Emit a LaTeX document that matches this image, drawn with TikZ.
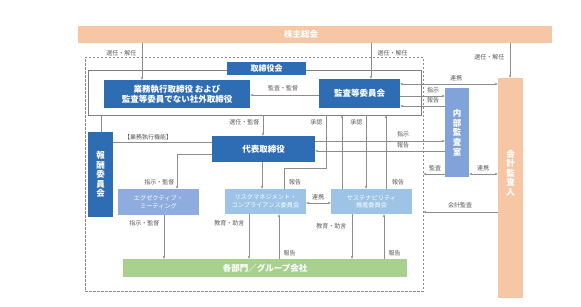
\documentclass[tikz,border=0pt]{standalone}
\usepackage{fontspec}
\setmainfont{Noto Sans CJK JP}
\usetikzlibrary{arrows.meta}
\definecolor{peach}{HTML}{F7C7A5}
\definecolor{dblue}{HTML}{2E6DB4}
\definecolor{iablue}{HTML}{82A2DA}
\definecolor{exblue}{HTML}{8EACDE}
\definecolor{lblue}{HTML}{9DC3E6}
\definecolor{lgreen}{HTML}{A9D18E}
\definecolor{linegray}{HTML}{8C8C8C}
\definecolor{labgray}{HTML}{595959}
\definecolor{framegray}{HTML}{7F7F7F}
\tikzset{
  cbox/.style={draw=none, fill=#1, text=white, inner sep=0pt, align=center,
    font=\bfseries\fontsize{8.5}{10}\selectfont},
  sbox/.style={draw=none, fill=#1, text=white, inner sep=0pt, align=center,
    font=\fontsize{6.2}{7.6}\selectfont},
  lab/.style={font=\fontsize{6}{7}\selectfont, text=labgray, inner sep=0.5pt},
  conn/.style={draw=linegray, line width=0.5pt},
  arr/.style={conn, -{Stealth[length=3pt,width=2.4pt]}},
  darr/.style={conn, {Stealth[length=3pt,width=2.4pt]}-{Stealth[length=3pt,width=2.4pt]}},
}
\begin{document}
\begin{tikzpicture}[x=1pt,y=-1pt]
\useasboundingbox (0,0) rectangle (581,306);
\fill[white] (0,0) rectangle (581,306);

% frames
\node[draw=linegray, line width=0.6pt, dash pattern=on 2.5pt off 1.5pt,
      minimum width=338pt, minimum height=234pt, inner sep=0pt] (dbox) at (254,174) {};
\node[draw=framegray, line width=0.6pt, minimum width=333pt, minimum height=45pt,
      inner sep=0pt] (frame) at (254.5,92.5) {};

% boxes
\node[cbox=peach, minimum width=474pt, minimum height=17pt] (sh) at (315,34.5) {};
\node[cbox=peach, text=white] (sht) at (301,34.5) {株主総会};
\node[cbox=dblue, minimum width=79pt, minimum height=13pt, font=\bfseries\fontsize{8}{9}\selectfont] (brd) at (266.5,68.5) {取締役会};
\node[cbox=dblue, minimum width=146pt, minimum height=28pt] (ex) at (177,94)
  {業務執行取締役 および\\監査等委員でない社外取締役};
\node[cbox=dblue, minimum width=81pt, minimum height=29pt] (ac) at (359.5,93.5) {監査等委員会};
\node[cbox=dblue, minimum width=103pt, minimum height=26pt] (ceo) at (263.5,149) {代表取締役};
\node[cbox=dblue, minimum width=25pt, minimum height=85pt, font=\bfseries\fontsize{8.5}{9.6}\selectfont] (rem) at (100.5,174.5)
  {報\\酬\\委\\員\\会};
\node[sbox=exblue, minimum width=81pt, minimum height=26pt] (exm) at (158.5,202)
  {エグゼクティブ・\\ミーティング};
\node[sbox=lblue, minimum width=81pt, minimum height=25pt] (risk) at (265.5,201.5)
  {リスクマネジメント・\\コンプライアンス委員会};
\node[sbox=lblue, minimum width=81pt, minimum height=25pt] (sus) at (371.5,201.5)
  {サステナビリティ\\推進委員会};
\node[cbox=lgreen, minimum width=284pt, minimum height=18pt] (grp) at (265,268)
  {各部門／グループ会社};
\node[cbox=iablue, minimum width=24pt, minimum height=89pt, font=\bfseries\fontsize{8.5}{9.6}\selectfont] (ia) at (457,132.5)
  {内\\部\\監\\査\\室};
\node[cbox=peach, minimum width=25pt, minimum height=220pt] (ea) at (510.5,188) {};
\node[cbox=peach, font=\bfseries\fontsize{8.5}{9.6}\selectfont] (eat) at (510.5,173)
  {会\\計\\監\\査\\人};

% shareholders arrows
\draw[arr] (142,0 |- sh.south) -- (142,0 |- ex.north);
\node[lab, anchor=east] (l1) at (137,53) {選任・解任};
\draw[arr] (371,0 |- sh.south) -- (371,0 |- ac.north);
\node[lab, anchor=west] (l2) at (377,53) {選任・解任};
\draw[arr] (510,0 |- sh.south) -- (510,0 |- ea.north);
\node[lab, anchor=east] (l3) at (505,57) {選任・解任};

% inside board
\draw[arr] (ac.west |- 0,95) -- (ex.east |- 0,95);
\node[lab] (l4) at (283,88) {監査・監督};

% audit committee / internal audit / accounting auditor
\draw[darr] (ac.east |- 0,84) -- (ea.west |- 0,84);
\node[lab] (l5) at (456,78.5) {連携};
\draw[arr] (ac.east |- 0,96) -- (ia.west |- 0,96);
\node[lab] (l6) at (433,90.5) {指示};
\draw[arr] (ia.west |- 0,106) -- (ac.east |- 0,106);
\node[lab] (l7) at (433,100.5) {報告};
\draw[arr] (ceo.east |- 0,141) -- (ia.west |- 0,141);
\node[lab] (l8) at (403,134.5) {指示};
\draw[arr] (ia.west |- 0,151) -- (ceo.east |- 0,151);
\node[lab] (l9) at (403,145.5) {報告};
\draw[arr] (ia.west |- 0,174) -- (dbox.east |- 0,174);
\node[lab] (l10) at (435,168) {監査};
\draw[darr] (ia.east |- 0,174) -- (ea.west |- 0,174);
\node[lab] (l11) at (483,168) {連携};
\draw[arr] (ea.west |- 0,212) -- (dbox.east |- 0,212);
\node[lab] (l12) at (460,205.5) {会計監査};

% board to remuneration / CEO
\draw[conn] (101,0 |- frame.south) -- (101,0 |- rem.north);
\draw[conn] (rem.east |- 0,142) -- (ceo.west |- 0,142);
\node[lab, anchor=south] (l13) at (148,141) {【業務執行機能】};
\draw[arr] (263,0 |- frame.south) -- (263,0 |- ceo.north);
\node[lab, anchor=east] (l14) at (260,122) {選任・監督};

% CEO to executive meeting
\draw[arr] (ceo.west |- 0,154) -- (177,154) -- (177,0 |- exm.north);
\node[lab, anchor=east] (l15) at (175,182) {指示・監督};

% CEO to risk
\draw[arr] (262,0 |- ceo.south) -- (262,0 |- risk.north);

% risk <-> board
\draw[conn] (284,0 |- risk.north) -- (284,168) -- (326,168) -- (326,0 |- frame.south);
\node[lab, anchor=east] (l16) at (323,122) {承認};
\node[lab] (l17) at (295,182) {報告};

% sustainability <-> board
\draw[arr] (342,0 |- sus.north) -- (342,0 |- frame.south);
\draw[arr] (366,0 |- frame.south) -- (366,0 |- sus.north);
\node[lab, anchor=east] (l18) at (363,122) {承認};
\draw[arr] (386,0 |- sus.north) -- (386,0 |- frame.south);
\node[lab] (l19) at (398,182) {報告};

% risk <-> sustainability
\draw[darr] (risk.east |- 0,203) -- (sus.west |- 0,203);
\node[lab] (l20) at (318,197) {連携};

% to group
\draw[arr] (164,0 |- exm.south) -- (164,0 |- grp.north);
\node[lab, anchor=east] (l21) at (160,223) {指示・監督};
\draw[arr] (249,0 |- risk.south) -- (249,0 |- grp.north);
\node[lab, anchor=east] (l22) at (245,223) {教育・助言};
\draw[arr] (279,0 |- grp.north) -- (279,0 |- risk.south);
\node[lab, anchor=west] (l23) at (283,253) {報告};
\draw[arr] (352,0 |- sus.south) -- (352,0 |- grp.north);
\node[lab, anchor=east] (l24) at (347,226) {教育・助言};
\draw[arr] (384,0 |- grp.north) -- (384,0 |- sus.south);
\node[lab, anchor=west] (l25) at (388,253) {報告};
\end{tikzpicture}
\end{document}
